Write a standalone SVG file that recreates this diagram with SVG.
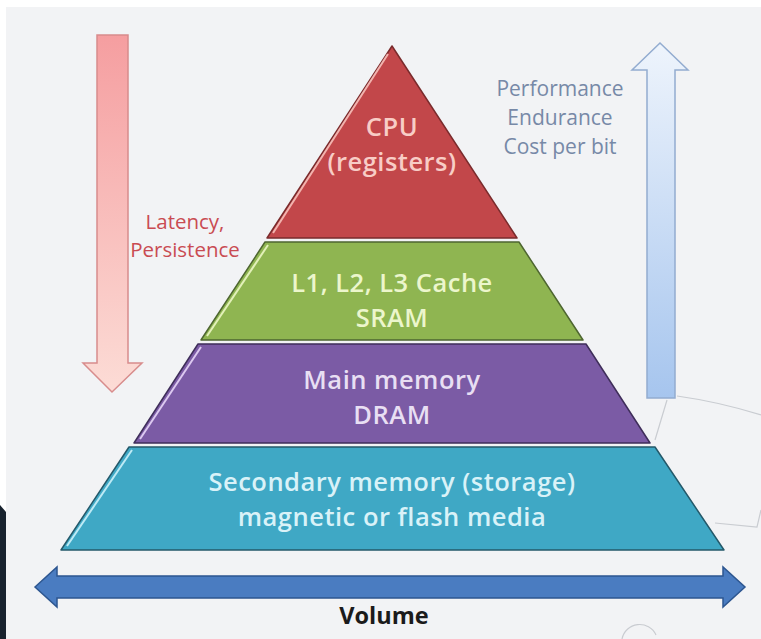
<svg xmlns="http://www.w3.org/2000/svg" width="761" height="639" viewBox="0 0 761 639">
  <defs>
    <linearGradient id="pinkGrad" x1="0" y1="0" x2="0" y2="1">
      <stop offset="0" stop-color="#f59ea0"/>
      <stop offset="1" stop-color="#fcdcd6"/>
    </linearGradient>
    <linearGradient id="blueGrad" x1="0" y1="0" x2="0" y2="1">
      <stop offset="0" stop-color="#eef4fc"/>
      <stop offset="1" stop-color="#a6c5ee"/>
    </linearGradient>
    <style>
      .lbl { font-family: "Open Sans", "Liberation Sans", sans-serif; text-anchor: middle; }
      .tier { font-size: 25.5px; font-weight: 600; letter-spacing: 0.5px; }
      .side-l { font-size: 20.5px; }
      .side-r { font-size: 21px; }
      .layer { stroke-width: 1.5; stroke-linejoin: round; }
      .shine { fill: none; stroke-width: 2; }
      .faint { fill: none; stroke: #c9ccd1; stroke-width: 1.2; }
    </style>
  </defs>

  <!-- page -->
  <rect x="0" y="0" width="761" height="639" fill="#f2f3f5"/>
  <rect x="0" y="0" width="761" height="7" fill="#ffffff"/>
  <rect x="0" y="0" width="6" height="639" fill="#ffffff"/>
  <path d="M0 505 L6 512 L6 639 L0 639 Z" fill="#18222e"/>

  <!-- faint background strokes -->
  <g id="background-lines">
    <path class="faint" d="M667 400 L655 440"/>
    <path class="faint" d="M677 396 Q720 402 761 415"/>
    <path class="faint" d="M715 523 L757 527 L761 510"/>
    <path class="faint" d="M622 639 A18 18 0 0 1 656 635"/>
  </g>

  <!-- pyramid tiers -->
  <g id="tier-cpu">
    <polygon class="layer" points="392,46 517,238 267,238" fill="#c2474a" stroke="#7a2b2c"/>
    <path class="shine" d="M388 54 L273 233" stroke="#f2b3ae"/>
    <text class="lbl tier" x="392" y="136" fill="#f8cdc6">CPU</text>
    <text class="lbl tier" x="392" y="171" fill="#f8cdc6">(registers)</text>
  </g>
  <g id="tier-cache">
    <polygon class="layer" points="265,242 519,242 583,340 201,340" fill="#8fb551" stroke="#4e6630"/>
    <path class="shine" d="M268 245 L207 336" stroke="#e2f0b8"/>
    <text class="lbl tier" x="392" y="292" fill="#ecf6cc">L1, L2, L3 Cache</text>
    <text class="lbl tier" x="392" y="327" fill="#ecf6cc">SRAM</text>
  </g>
  <g id="tier-dram">
    <polygon class="layer" points="198,344 586,344 650,443 134,443" fill="#7b5ba5" stroke="#3f2e5a"/>
    <path class="shine" d="M201 347 L140 439" stroke="#dcc9f0"/>
    <text class="lbl tier" x="392" y="389" fill="#e8dff3">Main memory</text>
    <text class="lbl tier" x="392" y="424" fill="#e8dff3">DRAM</text>
  </g>
  <g id="tier-storage">
    <polygon class="layer" points="129,447 655,447 724,550 61,550" fill="#3fa8c5" stroke="#24596a"/>
    <path class="shine" d="M132 450 L67 546" stroke="#bdeaf5"/>
    <text class="lbl tier" x="392" y="491" fill="#d9f2f8">Secondary memory (storage)</text>
    <text class="lbl tier" x="392" y="526" fill="#d9f2f8">magnetic or flash media</text>
  </g>

  <!-- arrows -->
  <g id="connectors">
    <polygon id="arrow-latency" points="97,35 128,35 128,363 142,363 112,392 83,363 97,363" fill="url(#pinkGrad)" stroke="#d88c8c" stroke-width="1.5"/>
    <polygon id="arrow-performance" points="647,398 675,398 675,70 688,70 660,43 632,70 647,70" fill="url(#blueGrad)" stroke="#93acd0" stroke-width="1.5"/>
    <polygon id="arrow-volume" points="35,587 57,567 57,576 723,576 723,567 745,587 723,607 723,598 57,598 57,607" fill="#4a7cc1" stroke="#2d5690" stroke-width="1.5"/>
  </g>

  <!-- axis labels -->
  <g id="label-latency">
    <text class="lbl side-l" x="185" y="229" fill="#c94b52">Latency,</text>
    <text class="lbl side-l" x="185" y="257" fill="#c94b52">Persistence</text>
  </g>
  <g id="label-performance">
    <text class="lbl side-r" x="560" y="96" fill="#7789a7">Performance</text>
    <text class="lbl side-r" x="560" y="125" fill="#7789a7">Endurance</text>
    <text class="lbl side-r" x="560" y="154" fill="#7789a7">Cost per bit</text>
  </g>
  <g id="label-volume">
    <text class="lbl" x="384" y="624" font-size="23.5" font-weight="bold" fill="#1b1b1b">Volume</text>
  </g>
</svg>
